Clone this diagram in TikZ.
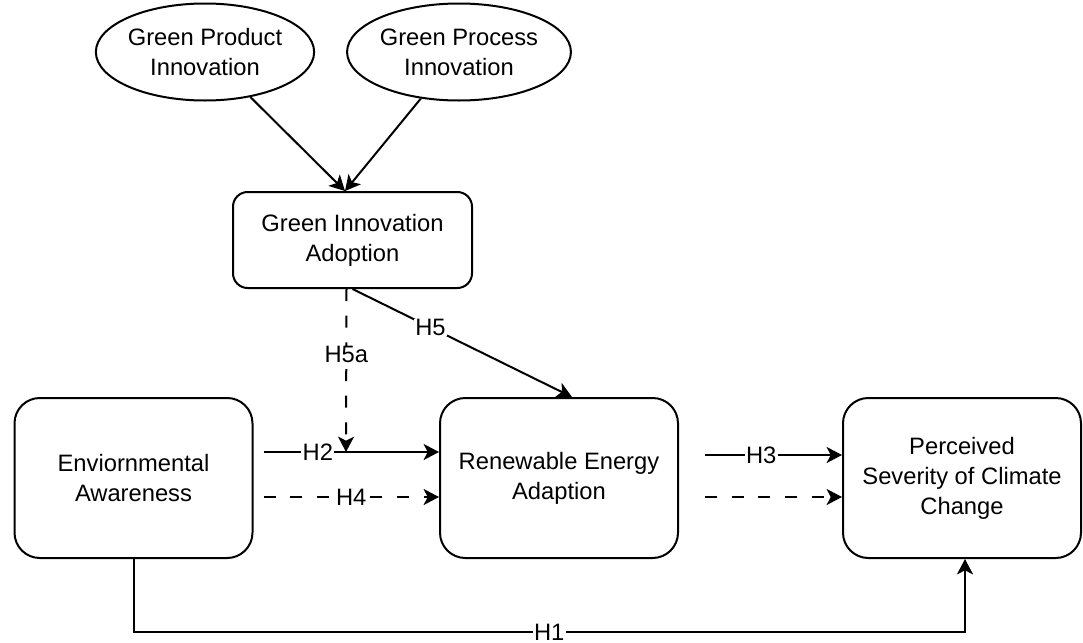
\documentclass[tikz,border=0pt]{standalone}
\usepackage{fontspec}
\setmainfont{Liberation Sans}
\usetikzlibrary{shapes.geometric,arrows.meta,calc}
\begin{document}
\begin{tikzpicture}[x=0.75pt,y=-0.75pt,
  every node/.style={font=\fontsize{17.8}{22.5}\selectfont},
  boxsmall/.style={draw,line width=1.5pt,rounded corners=11pt,align=center,minimum width=239*0.75pt,minimum height=96*0.75pt,inner sep=0pt},
  boxbig/.style={draw,line width=1.5pt,rounded corners=19pt,align=center,minimum width=238*0.75pt,minimum height=160*0.75pt,inner sep=0pt},
  ell/.style={draw,ellipse,line width=1.5pt,align=center,minimum width=176*0.75pt,minimum height=97*0.75pt,inner sep=0pt},
  arr/.style={line width=1.5pt,-{Stealth[length=11.5pt,width=12pt,inset=3pt]}},
  dsh/.style={arr,dash pattern=on 9pt off 11pt},
  lbl/.style={fill=white,inner xsep=1pt,inner ysep=0pt}]
\useasboundingbox (0,0) rectangle (1083,643);
\node[ell] (gpi) at (205,52) {Green Product\\Innovation};
\node[ell] (gpr) at (459,52) {Green Process\\Innovation};
\node[boxsmall] (gia) at (352.5,240) {Green Innovation\\Adoption};
\node[boxbig] (ea) at (133.5,478) {Enviornmental\\Awareness};
\node[boxbig] (rea) at (559,478) {Renewable Energy\\Adaption};
\node[boxbig] (psc) at (962,478) {Perceived\\Severity of Climate\\Change};
\coordinate (giatop) at (345,191);
\coordinate (h5a) at (346,452);
\draw[arr] (gpi) -- (giatop);
\draw[arr] (gpr) -- (giatop);
\draw[arr] (gia.south) -- node[lbl,pos=0.355] {H5} ($(rea.north)+(13,0)$);
\draw[dsh] ($(gia.south)+(-6,0)$) -- node[lbl,pos=0.4] {H5a} (h5a);
\draw[arr] ($(ea.east)+(10,-26)$) -- node[lbl,pos=0.31] {H2} ($(rea.west)+(0,-26)$);
\draw[dsh] ($(ea.east)+(10,19)$) -- node[lbl,pos=0.5] {H4} ($(rea.west)+(0,19)$);
\draw[arr] ($(rea.east)+(26,-23)$) -- node[lbl,pos=0.41] {H3} ($(psc.west)+(0,-23)$);
\draw[dsh] ($(rea.east)+(26,19)$) -- ($(psc.west)+(0,19)$);
\draw[arr] (ea.south) -- ++(0,73) -| node[lbl,pos=0.25] {H1} ($(psc.south)+(3,0)$);
\end{tikzpicture}
\end{document}
